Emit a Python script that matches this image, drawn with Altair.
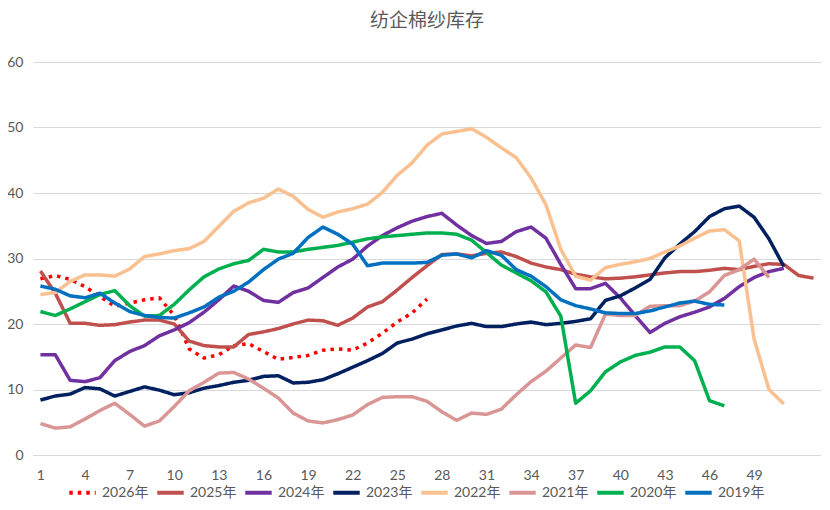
import altair as alt
import pandas as pd

title_text = "纺企棉纱库存"
series_names = ["2026年", "2025年", "2024年", "2023年", "2022年", "2021年", "2020年", "2019年"]
series_colors = ["#FF0000", "#C0504D", "#7030A0", "#002060", "#FAC090", "#D99694", "#00B050", "#0070C0"]
x_tick_labels = list(range(1, 50, 3))
y_tick_labels = [0, 10, 20, 30, 40, 50, 60]

v2026 = [26.9, 27.4, 26.8, 25.7, 24.2, 22.7, 23.2, 23.7, 24.0, 21.3, 16.2, 14.8, 15.3, 16.7, 17.0,
         15.8, 14.6, 14.9, 15.2, 16.0, 16.2, 16.0, 17.1, 18.6, 20.3, 21.7, 23.8]
v2025 = [28.1, 24.7, 20.1, 20.1, 19.8, 19.9, 20.3, 20.6, 20.6, 20.0, 17.4, 16.7, 16.5, 16.5, 18.4,
         18.8, 19.3, 20.0, 20.6, 20.5, 19.8, 20.9, 22.6, 23.4, 25.2, 27.1, 28.9, 30.6, 30.7, 30.4,
         30.8, 31.0, 30.3, 29.3, 28.7, 28.3, 27.6, 27.2, 26.9, 27.0, 27.2, 27.5, 27.8, 28.0, 28.0,
         28.2, 28.5, 28.3, 28.8, 29.2, 29.1, 27.4, 27.0]
v2024 = [15.3, 15.3, 11.4, 11.2, 11.8, 14.4, 15.8, 16.7, 18.2, 19.1, 20.2, 21.8, 23.7, 25.8, 25.0,
         23.6, 23.3, 24.8, 25.5, 27.1, 28.7, 29.9, 31.9, 33.5, 34.7, 35.7, 36.4, 36.9, 35.1, 33.5,
         32.3, 32.6, 34.1, 34.8, 33.1, 29.1, 25.4, 25.4, 26.2, 24.0, 21.3, 18.7, 20.1, 21.1, 21.8,
         22.6, 23.9, 25.7, 27.1, 28.0, 28.5]
v2023 = [8.4, 9.0, 9.3, 10.3, 10.1, 9.0, 9.7, 10.4, 9.9, 9.2, 9.5, 10.2, 10.6, 11.1, 11.4,
         12.0, 12.1, 11.0, 11.1, 11.5, 12.4, 13.4, 14.4, 15.5, 17.1, 17.7, 18.5, 19.1, 19.7, 20.1,
         19.6, 19.6, 20.0, 20.3, 19.9, 20.1, 20.4, 20.8, 23.6, 24.3, 25.5, 26.8, 30.1, 32.2, 34.1,
         36.4, 37.6, 38.0, 36.3, 33.0, 28.8]
v2022 = [24.5, 24.8, 26.5, 27.5, 27.5, 27.3, 28.4, 30.3, 30.7, 31.2, 31.5, 32.6, 34.9, 37.2, 38.5,
         39.2, 40.6, 39.5, 37.5, 36.3, 37.1, 37.6, 38.3, 40.1, 42.7, 44.6, 47.3, 49.0, 49.4, 49.8,
         48.5, 46.9, 45.4, 42.3, 38.2, 31.4, 27.3, 26.7, 28.6, 29.1, 29.5, 30.0, 31.0, 31.9, 33.1,
         34.2, 34.4, 32.7, 17.7, 10.0, 7.8]
v2021 = [4.8, 4.1, 4.3, 5.5, 6.8, 7.9, 6.2, 4.4, 5.2, 7.4, 9.8, 11.1, 12.5, 12.6, 11.6,
         10.2, 8.7, 6.4, 5.2, 4.9, 5.4, 6.1, 7.7, 8.8, 8.9, 8.9, 8.2, 6.6, 5.3, 6.4,
         6.2, 7.0, 9.2, 11.2, 12.8, 14.8, 16.8, 16.4, 21.5, 21.3, 21.3, 22.7, 22.8, 22.8, 23.5,
         24.9, 27.4, 28.3, 29.9, 27.1]
v2020 = [21.9, 21.3, 22.3, 23.4, 24.5, 25.1, 22.8, 21.2, 21.3, 23.0, 25.2, 27.2, 28.4, 29.2, 29.7,
         31.4, 31.0, 31.0, 31.4, 31.7, 32.0, 32.5, 33.0, 33.3, 33.5, 33.7, 33.9, 33.9, 33.7, 32.8,
         30.9, 29.0, 27.8, 26.6, 24.9, 21.2, 7.9, 9.8, 12.7, 14.2, 15.2, 15.7, 16.5, 16.5, 14.4,
         8.3, 7.5]
v2019 = [25.8, 25.3, 24.3, 24.0, 24.7, 23.2, 21.9, 21.3, 21.0, 20.9, 21.7, 22.6, 24.1, 25.0, 26.4,
         28.3, 29.9, 30.8, 33.2, 34.8, 33.7, 32.2, 28.9, 29.3, 29.3, 29.3, 29.4, 30.5, 30.7, 30.1,
         31.2, 30.5, 28.3, 27.3, 25.7, 23.7, 22.8, 22.3, 21.7, 21.6, 21.6, 22.0, 22.6, 23.2, 23.5,
         23.0, 22.9]

all_values = [v2026, v2025, v2024, v2023, v2022, v2021, v2020, v2019]
rows = []
for order, (name, vals) in enumerate(zip(series_names, all_values)):
    for i, v in enumerate(vals):
        rows.append({"series": name, "week": i + 1, "value": v, "order": 7 - order})
df = pd.DataFrame(rows)

dashes = [[3.5, 5]] + [[1, 0]] * 7

font_latin = "Lato, Noto Sans CJK SC, sans-serif"
gray = "#595959"

legend_kw = dict(title=None, orient="none", legendX=34, legendY=415,
                 direction="horizontal", columns=8,
                 symbolType="stroke", symbolSize=700,
                 symbolStrokeWidth=4, labelFontSize=14,
                 labelFont=font_latin, labelColor=gray,
                 labelOffset=4, columnPadding=0)

chart = alt.Chart(df).mark_line(strokeWidth=3.5, strokeJoin="round").encode(
    x=alt.X("week:Q",
            scale=alt.Scale(domain=[0.5, 53.5], nice=False, zero=False),
            axis=alt.Axis(values=x_tick_labels, title=None, grid=False, ticks=False,
                          domainColor="#D9D9D9", domainWidth=1, labelColor=gray,
                          labelFontSize=14, labelFont=font_latin, labelPadding=13)),
    y=alt.Y("value:Q",
            scale=alt.Scale(domain=[0, 60], nice=False),
            axis=alt.Axis(values=y_tick_labels, title=None, grid=True, gridColor="#D9D9D9",
                          gridWidth=1, domain=False, ticks=False, labelColor=gray,
                          labelFontSize=14, labelFont=font_latin, labelPadding=10)),
    color=alt.Color("series:N",
                    scale=alt.Scale(domain=series_names, range=series_colors),
                    legend=alt.Legend(**legend_kw)),
    strokeDash=alt.StrokeDash("series:N",
                              scale=alt.Scale(domain=series_names, range=dashes),
                              legend=alt.Legend(**legend_kw)),
    order=alt.Order("order:Q"),
).properties(
    width=788,
    height=393,
    title=alt.TitleParams(title_text, font="Noto Sans CJK SC", fontSize=19,
                          fontWeight="normal", color=gray, anchor="middle", offset=24),
    autosize=alt.AutoSizeParams(type="none"),
    padding={"left": 25, "top": 54, "right": 0, "bottom": 47},
).configure_view(stroke=None)

chart.save("out.html", embed_options={"renderer": "svg", "actions": False})
